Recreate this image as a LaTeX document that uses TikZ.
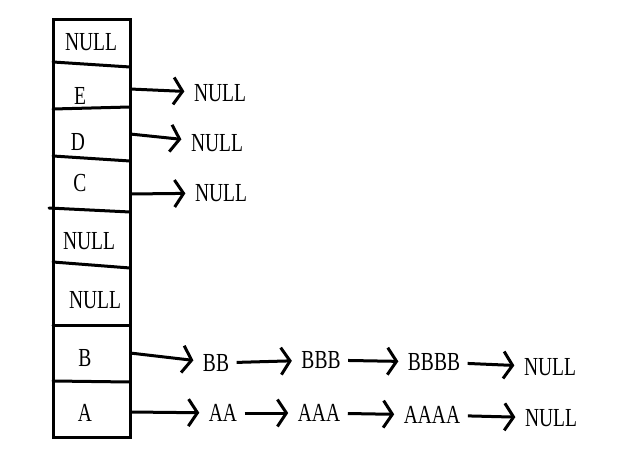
\documentclass[tikz,border=0pt]{standalone}
\usepackage{fontspec}
\setmainfont{Liberation Serif}
\usetikzlibrary{arrows.meta}

\tikzset{
  box/.style={line width=3pt, line cap=round},
  link/.style={line width=3pt, -{Straight Barb[length=9pt, width=27pt]}, shorten >=8pt, shorten <=6pt},
  lbl/.style={font=\fontsize{26}{28}\selectfont, xscale=0.75, transform shape, inner sep=2pt}
}

\begin{document}
\begin{tikzpicture}[x=1pt, y=-1pt]
  \useasboundingbox (0,0) rectangle (640,462);
  % Hash table
  \draw[box] (53,20) rectangle (130,437);
  \foreach \xl/\l/\r in {53/62/67, 53/109/107, 53/156/161, 49/208/212, 53/262/268, 53/326/326, 53/381/382}
    \draw[box] (\xl,\l) -- (130,\r);
  \node[lbl] (sNull) at (91,42) {NULL};
  \node[lbl] (sE) at (80,96) {E};
  \node[lbl] (sD) at (78,142) {D};
  \node[lbl] (sC) at (80,183) {C};
  \node[lbl] (sNullA) at (89,241) {NULL};
  \node[lbl] (sNullB) at (95,300) {NULL};
  \node[lbl] (sB) at (85,358) {B};
  \node[lbl] (sA) at (85,413) {A};
  % Slot pointers
  \coordinate (pE) at (130,89);
  \coordinate (pD) at (130,134);
  \coordinate (pC) at (130,194);
  \coordinate (pB) at (130,353);
  \coordinate (pA) at (130,412);
  % Chains
  \node[lbl] (eNull) at (220,93) {NULL};
  \node[lbl] (dNull) at (217,143) {NULL};
  \node[lbl] (cNull) at (221,193) {NULL};
  \node[lbl] (bb) at (216,363) {BB};
  \node[lbl] (bbb) at (321,360) {BBB};
  \node[lbl] (bbbb) at (434,362) {BBBB};
  \node[lbl] (bNull) at (550,367) {NULL};
  \node[lbl] (aa) at (223,413) {AA};
  \node[lbl] (aaa) at (319,413) {AAA};
  \node[lbl] (aaaa) at (432,415) {AAAA};
  \node[lbl] (aNull) at (551,418) {NULL};
  \draw[link, shorten <=0pt] (pE) -- (eNull);
  \draw[link, shorten <=0pt] (pD) -- (dNull);
  \draw[link, shorten <=0pt] (pC) -- (cNull);
  \draw[link, shorten <=0pt] (pB) -- (bb);
  \draw[link] (bb) -- (bbb);
  \draw[link] (bbb) -- (bbbb);
  \draw[link] (bbbb) -- (bNull);
  \draw[link, shorten <=0pt] (pA) -- (aa);
  \draw[link] (aa) -- (aaa);
  \draw[link] (aaa) -- (aaaa);
  \draw[link] (aaaa) -- (aNull);
\end{tikzpicture}
\end{document}
